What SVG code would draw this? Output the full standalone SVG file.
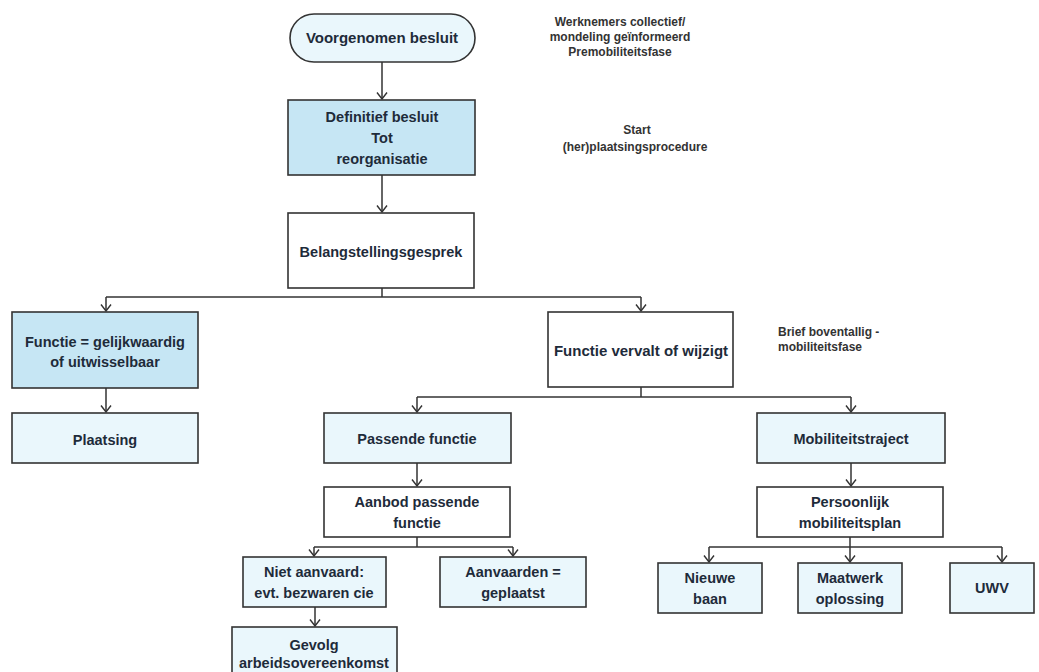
<svg xmlns="http://www.w3.org/2000/svg" width="1039" height="672" viewBox="0 0 1039 672">
<defs>
<marker id="arr" viewBox="0 0 8 12" refX="7.5" refY="6" markerWidth="8" markerHeight="12" markerUnits="userSpaceOnUse" orient="auto">
<path d="M1,1 L7.5,6 L1,11" fill="none" stroke="#333" stroke-width="1.4"/>
</marker>
<style>
.box{stroke:#333;stroke-width:1.6}
.blue{fill:#c6e6f4}
.pale{fill:#eaf7fc}
.white{fill:#ffffff}
.t{font-family:"Liberation Sans",Arial,sans-serif;font-weight:bold;font-size:14.5px;fill:#1e2b3a;text-anchor:middle}
.big{font-size:15px}
.n{font-family:"Liberation Sans",Arial,sans-serif;font-size:12px;fill:#333;font-weight:bold}
.c{fill:none;stroke:#333;stroke-width:1.5}
</style>
</defs>
<rect width="1039" height="672" fill="#ffffff"/>

<g id="connectors">
<path class="c" d="M382,62 V99" marker-end="url(#arr)"/>
<path class="c" d="M382,175 V212" marker-end="url(#arr)"/>
<path class="c" d="M382,288 V297"/>
<path class="c" d="M106,297 H641"/>
<path class="c" d="M106,297 V311" marker-end="url(#arr)"/>
<path class="c" d="M641,297 V311" marker-end="url(#arr)"/>
<path class="c" d="M106,388 V412" marker-end="url(#arr)"/>
<path class="c" d="M641,387 V397"/>
<path class="c" d="M417,397 H851"/>
<path class="c" d="M417,397 V412" marker-end="url(#arr)"/>
<path class="c" d="M851,397 V412" marker-end="url(#arr)"/>
<path class="c" d="M417,463 V486" marker-end="url(#arr)"/>
<path class="c" d="M851,463 V486" marker-end="url(#arr)"/>
<path class="c" d="M417,537 V547"/>
<path class="c" d="M314,547 H513"/>
<path class="c" d="M314,547 V556" marker-end="url(#arr)"/>
<path class="c" d="M513,547 V556" marker-end="url(#arr)"/>
<path class="c" d="M315,607 V626" marker-end="url(#arr)"/>
<path class="c" d="M850,537 V547"/>
<path class="c" d="M709,547 H1002"/>
<path class="c" d="M709,547 V562" marker-end="url(#arr)"/>
<path class="c" d="M850,547 V562" marker-end="url(#arr)"/>
<path class="c" d="M1002,547 V562" marker-end="url(#arr)"/>
</g>

<g id="voorgenomen">
<rect class="box pale" x="290" y="14" width="185" height="48" rx="24"/>
<text class="t big" x="382" y="43">Voorgenomen besluit</text>
</g>
<g id="note1">
<text class="n" x="620" y="26" text-anchor="middle">Werknemers collectief/</text>
<text class="n" x="620" y="41" text-anchor="middle">mondeling geïnformeerd</text>
<text class="n" x="620" y="56" text-anchor="middle">Premobiliteitsfase</text>
</g>
<g id="definitief">
<rect class="box blue" x="288" y="100" width="187" height="75"/>
<text class="t" x="382" y="122">Definitief besluit</text>
<text class="t" x="382" y="143">Tot</text>
<text class="t" x="382" y="164">reorganisatie</text>
</g>
<g id="note2">
<text class="n" x="637" y="134" text-anchor="middle">Start</text>
<text class="n" x="635" y="151" text-anchor="middle">(her)plaatsingsprocedure</text>
</g>
<g id="belangstelling">
<rect class="box white" x="288" y="213" width="186" height="75"/>
<text class="t" x="381" y="257">Belangstellingsgesprek</text>
</g>
<g id="gelijkwaardig">
<rect class="box blue" x="12" y="312" width="186" height="76"/>
<text class="t" x="105" y="347">Functie = gelijkwaardig</text>
<text class="t" x="105" y="367">of uitwisselbaar</text>
</g>
<g id="vervalt">
<rect class="box white" x="548" y="312" width="185" height="75"/>
<text class="t big" x="641" y="356">Functie vervalt of wijzigt</text>
</g>
<g id="note3">
<text class="n" x="778" y="336">Brief boventallig -</text>
<text class="n" x="778" y="351">mobiliteitsfase</text>
</g>
<g id="plaatsing">
<rect class="box pale" x="12" y="413" width="186" height="50"/>
<text class="t" x="105" y="445">Plaatsing</text>
</g>
<g id="passende">
<rect class="box pale" x="324" y="413" width="187" height="50"/>
<text class="t" x="417" y="444">Passende functie</text>
</g>
<g id="mobiliteitstraject">
<rect class="box pale" x="757" y="413" width="188" height="50"/>
<text class="t" x="851" y="444">Mobiliteitstraject</text>
</g>
<g id="aanbod">
<rect class="box white" x="324" y="487" width="186" height="50"/>
<text class="t" x="417" y="507">Aanbod passende</text>
<text class="t" x="417" y="528">functie</text>
</g>
<g id="persoonlijk">
<rect class="box white" x="757" y="487" width="186" height="50"/>
<text class="t" x="850" y="507">Persoonlijk</text>
<text class="t" x="850" y="528">mobiliteitsplan</text>
</g>
<g id="nietaanvaard">
<rect class="box pale" x="243" y="557" width="143" height="50"/>
<text class="t" x="314" y="577">Niet aanvaard:</text>
<text class="t" x="314" y="598">evt. bezwaren cie</text>
</g>
<g id="aanvaarden">
<rect class="box pale" x="440" y="557" width="146" height="50"/>
<text class="t" x="513" y="577">Aanvaarden =</text>
<text class="t" x="513" y="598">geplaatst</text>
</g>
<g id="gevolg">
<rect class="box pale" x="232" y="627" width="165" height="55"/>
<text class="t" x="314" y="650">Gevolg</text>
<text class="t" x="314" y="668">arbeidsovereenkomst</text>
</g>
<g id="nieuwebaan">
<rect class="box pale" x="658" y="563" width="104" height="50"/>
<text class="t" x="710" y="583">Nieuwe</text>
<text class="t" x="710" y="604">baan</text>
</g>
<g id="maatwerk">
<rect class="box pale" x="798" y="563" width="104" height="50"/>
<text class="t" x="850" y="583">Maatwerk</text>
<text class="t" x="850" y="604">oplossing</text>
</g>
<g id="uwv">
<rect class="box pale" x="950" y="563" width="84" height="50"/>
<text class="t" x="992" y="593">UWV</text>
</g>
</svg>
